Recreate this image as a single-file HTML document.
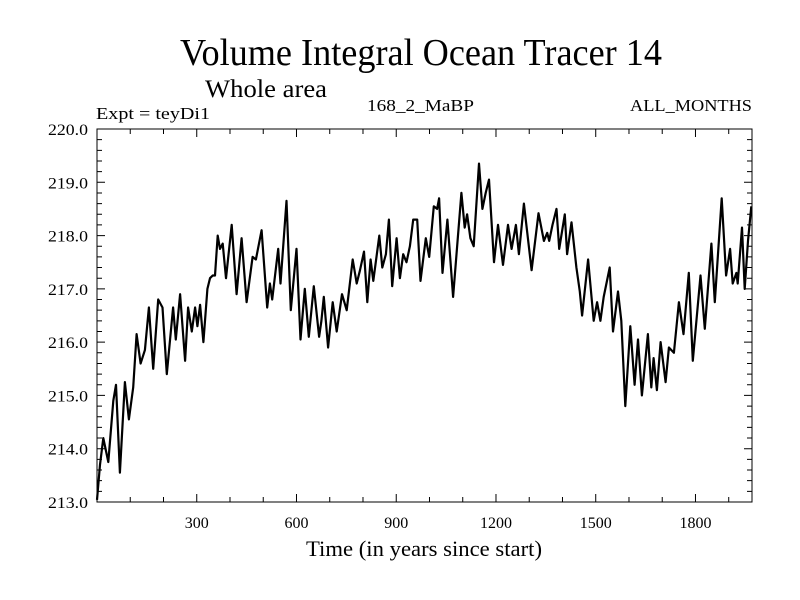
<!DOCTYPE html>
<html><head><meta charset="utf-8"><style>
html,body{margin:0;padding:0;background:#fff;}
svg{display:block;font-family:"Liberation Serif",serif;}
</style></head><body>
<svg id="chart" width="800" height="600" viewBox="0 0 800 600" xmlns="http://www.w3.org/2000/svg">
<rect width="800" height="600" fill="#fff"/>
<text x="180" y="65" font-size="38" textLength="482" lengthAdjust="spacingAndGlyphs">Volume Integral Ocean Tracer 14</text>
<text x="205" y="97" font-size="25" textLength="122" lengthAdjust="spacingAndGlyphs">Whole area</text>
<text x="96" y="119" font-size="17" textLength="114" lengthAdjust="spacingAndGlyphs">Expt = teyDi1</text>
<text x="367" y="111" font-size="17" textLength="107" lengthAdjust="spacingAndGlyphs">168_2_MaBP</text>
<text x="630" y="111" font-size="17" textLength="122" lengthAdjust="spacingAndGlyphs">ALL_MONTHS</text>
<g id="axes"></g>
<text x="306" y="556" font-size="22" textLength="236" lengthAdjust="spacingAndGlyphs">Time (in years since start)</text>
</svg>
<script>
const years=[0,9,19,34,49,57,69,84,96,109,119,131,144,156,169,184,197,210,229,237,250,265,274,285,295,302,310,320,332,340,348,355,363,370,378,388,405,420,435,450,468,478,495,512,520,527,545,552,570,583,600,612,625,637,652,668,675,682,695,709,721,737,751,769,781,791,803,813,823,831,849,858,869,878,888,901,911,921,931,941,951,963,973,989,999,1013,1023,1029,1039,1054,1071,1096,1106,1113,1123,1133,1149,1159,1169,1179,1194,1206,1221,1236,1247,1260,1269,1284,1307,1328,1344,1354,1360,1370,1382,1390,1407,1414,1427,1442,1452,1459,1477,1494,1504,1514,1524,1542,1552,1567,1577,1589,1604,1617,1627,1639,1657,1667,1674,1684,1695,1710,1720,1735,1750,1764,1780,1792,1815,1828,1848,1858,1879,1892,1904,1912,1923,1927,1940,1948,1958,1968];
const values=[213.04,213.7,214.2,213.75,214.9,215.2,213.55,215.25,214.55,215.15,216.15,215.6,215.85,216.65,215.5,216.8,216.65,215.4,216.65,216.05,216.9,215.65,216.65,216.2,216.65,216.3,216.7,216.0,217.0,217.2,217.25,217.25,218.0,217.75,217.85,217.2,218.2,216.9,217.95,216.75,217.6,217.55,218.1,216.65,217.1,216.8,217.75,217.1,218.65,216.6,217.75,216.05,217.0,216.1,217.05,216.1,216.4,216.85,215.9,216.75,216.2,216.9,216.6,217.55,217.1,217.35,217.7,216.75,217.55,217.15,218.0,217.4,217.65,218.3,217.05,217.95,217.2,217.65,217.5,217.8,218.3,218.3,217.15,217.95,217.6,218.55,218.5,218.7,217.3,218.3,216.85,218.8,218.15,218.4,217.95,217.8,219.35,218.5,218.8,219.05,217.5,218.2,217.45,218.2,217.75,218.2,217.65,218.6,217.35,218.42,217.9,218.05,217.9,218.2,218.5,217.75,218.4,217.65,218.25,217.4,216.95,216.5,217.55,216.4,216.75,216.4,216.85,217.4,216.2,216.95,216.4,214.8,216.3,215.2,216.05,215.0,216.15,215.15,215.7,215.1,216.0,215.25,215.9,215.8,216.75,216.15,217.3,215.65,217.25,216.25,217.85,216.75,218.7,217.25,217.75,217.1,217.3,217.1,218.15,217.0,217.9,218.55];
const xTicks=[300,600,900,1200,1500,1800];
const yTicks=[213.0,214.0,215.0,216.0,217.0,218.0,219.0,220.0];
const NS="http://www.w3.org/2000/svg";
const L=97,R=752,T=129,B=502,X0=0,X1=1970,Y0=213,Y1=220;
const sx=v=>L+(v-X0)/(X1-X0)*(R-L);
const sy=v=>B-(v-Y0)/(Y1-Y0)*(B-T);
const g=document.getElementById('axes');
function mk(t,a){const e=document.createElementNS(NS,t);for(const k in a)e.setAttribute(k,a[k]);g.appendChild(e);return e;}
let d='';
for(let yr=100;yr<X1;yr+=100){const x=sx(yr),big=yr%300===0?8:5;d+=`M${x},${B}v${-big}M${x},${T}v${big}`;}
for(let v=Y0;v<=Y1+1e-6;v+=0.2){const y=sy(v),big=Math.abs(v-Math.round(v))<1e-6?8:5;d+=`M${L},${y}h${big}M${R},${y}h${-big}`;}
const ticks=mk('path',{d:d,stroke:'#000','stroke-width':1,fill:'none'});


const frame=mk('rect',{x:L,y:T,width:R-L,height:B-T,fill:'none',stroke:'#000','stroke-width':1});


yTicks.forEach(v=>{const t=mk('text',{x:48,y:sy(v)+6,'font-size':16,textLength:40,lengthAdjust:'spacingAndGlyphs'});t.textContent=v.toFixed(1);

});
xTicks.forEach(v=>{const t=mk('text',{x:sx(v),y:528,'font-size':16,'text-anchor':'middle'});t.textContent=String(v);

});
const pts=years.map((yr,i)=>`${sx(yr).toFixed(1)},${sy(values[i]).toFixed(1)}`).join(' ');
const line=mk('polyline',{points:pts,fill:'none',stroke:'#000','stroke-width':2.2,'stroke-linejoin':'round'});


</script>
</body></html>
